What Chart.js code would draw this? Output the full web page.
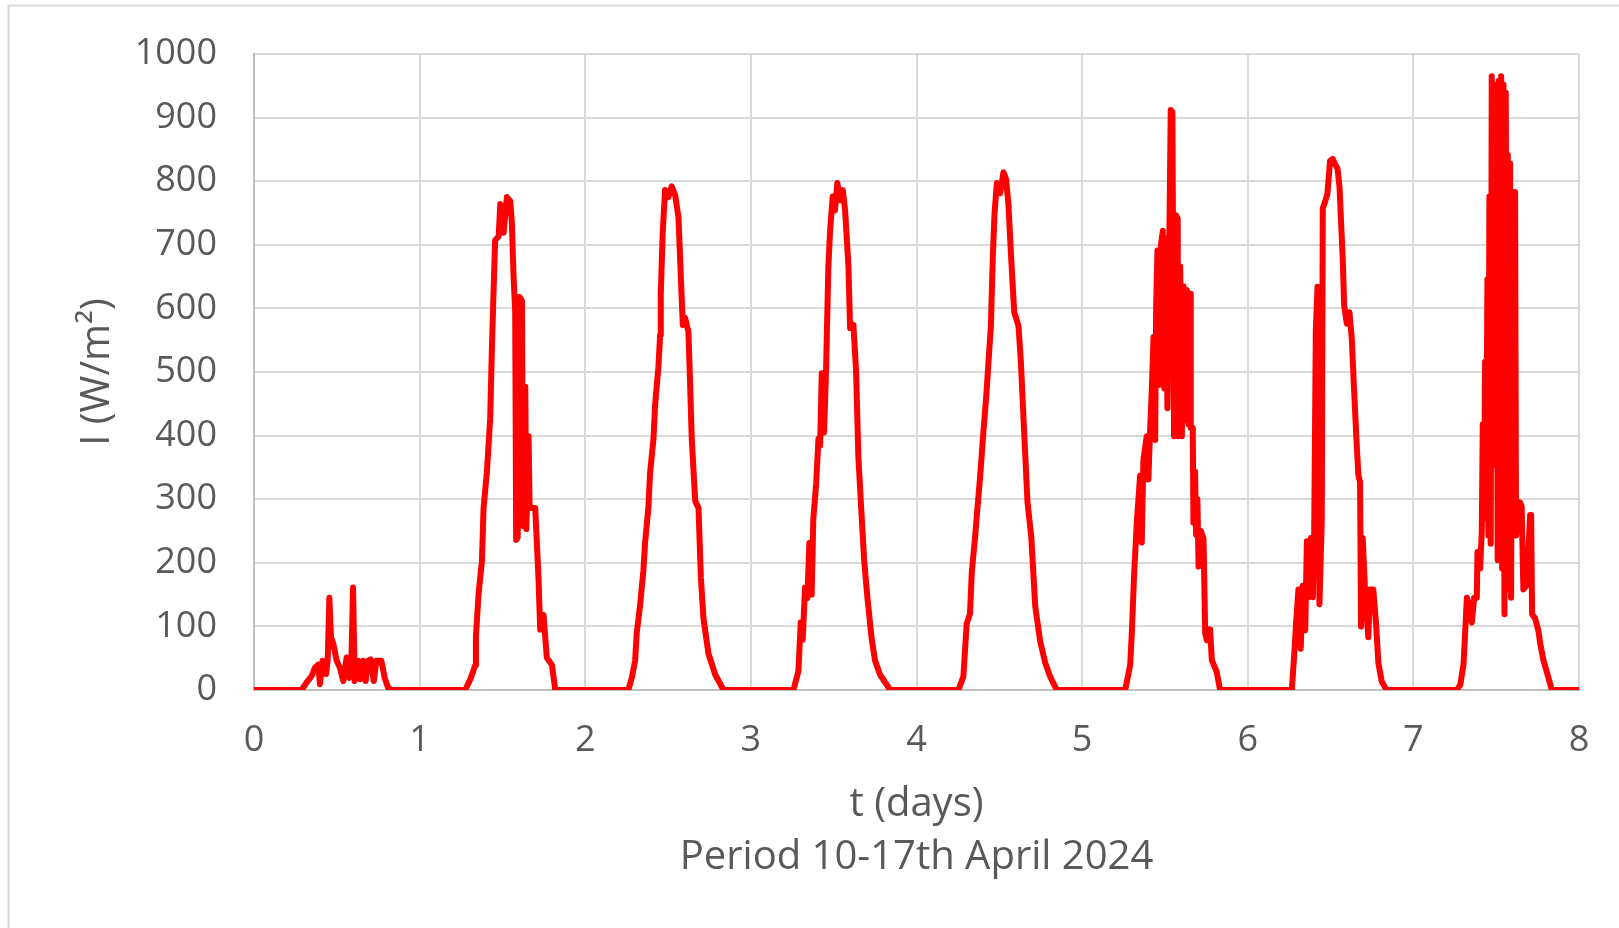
<!DOCTYPE html>
<html>
<head>
<meta charset="utf-8">
<script src="https://cdn.jsdelivr.net/npm/chart.js@4.4.1/dist/chart.umd.min.js"></script>
<style>
  html, body { margin: 0; padding: 0; background: #ffffff; }
  #wrap { width: 1619px; height: 928px; position: relative; }
</style>
</head>
<body>
<div id="wrap"><canvas id="c" width="1619" height="928"></canvas></div>
<script>
// ---- Data: irradiance I (W/m²) vs time t (days) ----
const xTicks = [0, 1, 2, 3, 4, 5, 6, 7, 8];
const yTicks = [0, 100, 200, 300, 400, 500, 600, 700, 800, 900, 1000];
const xTitle = ["t (days)", "Period 10-17th April 2024"];
const yTitle = "I (W/m²)";

const day0 = [[0,0],[0.288,0],[0.318,12],[0.348,22],[0.368,35],[0.388,40],[0.398,9],[0.414,46],[0.435,25],[0.445,48],[0.455,145],[0.465,83],[0.479,72],[0.499,46],[0.519,35],[0.539,14],[0.559,51],[0.575,19],[0.588,46],[0.598,161],[0.608,14],[0.628,46],[0.642,17],[0.658,46],[0.674,14],[0.689,46],[0.705,48],[0.723,14],[0.739,46],[0.769,46],[0.789,19],[0.809,4],[0.829,0]];
const day1 = [[1.275,0],[1.306,17],[1.336,39],[1.34,84],[1.356,152],[1.376,202],[1.386,286],[1.406,342],[1.426,427],[1.436,533],[1.446,623],[1.456,707],[1.477,713],[1.487,764],[1.507,719],[1.527,775],[1.547,769],[1.557,735],[1.567,651],[1.577,595],[1.583,236],[1.592,240],[1.603,618],[1.618,612],[1.624,258],[1.638,477],[1.644,253],[1.658,399],[1.664,286],[1.698,286],[1.718,174],[1.728,95],[1.748,118],[1.768,51],[1.799,39],[1.819,0]];
const day2 = [[2.260,0],[2.281,19],[2.301,46],[2.311,90],[2.331,133],[2.351,188],[2.361,231],[2.381,286],[2.391,340],[2.412,395],[2.422,449],[2.442,509],[2.452,558],[2.456,623],[2.468,721],[2.482,786],[2.502,775],[2.522,792],[2.543,778],[2.563,743],[2.577,650],[2.589,574],[2.603,585],[2.623,563],[2.633,482],[2.643,395],[2.664,297],[2.684,286],[2.698,177],[2.714,112],[2.744,57],[2.785,24],[2.835,0]];
const day3 = [[3.257,0],[3.287,30],[3.301,106],[3.313,79],[3.327,161],[3.341,144],[3.353,231],[3.367,150],[3.377,269],[3.394,324],[3.408,395],[3.418,384],[3.428,498],[3.442,405],[3.454,503],[3.468,667],[3.478,721],[3.494,776],[3.508,754],[3.522,797],[3.539,770],[3.555,786],[3.569,754],[3.589,667],[3.599,569],[3.619,574],[3.635,503],[3.649,367],[3.666,286],[3.684,204],[3.704,144],[3.730,79],[3.750,46],[3.780,24],[3.841,0]];
const day4 = [[4.253,0],[4.283,21],[4.303,104],[4.323,120],[4.334,186],[4.354,241],[4.364,274],[4.384,335],[4.404,406],[4.421,461],[4.435,517],[4.449,572],[4.461,682],[4.471,748],[4.485,797],[4.505,781],[4.525,814],[4.541,803],[4.555,764],[4.571,682],[4.590,594],[4.616,572],[4.630,517],[4.650,406],[4.670,296],[4.693,241],[4.717,131],[4.747,76],[4.777,43],[4.807,21],[4.847,0]];
const day5 = [[5.260,0],[5.290,39],[5.300,89],[5.314,182],[5.330,263],[5.350,337],[5.360,232],[5.370,362],[5.390,399],[5.400,331],[5.410,406],[5.421,474],[5.431,555],[5.441,393],[5.447,604],[5.455,691],[5.467,480],[5.475,698],[5.487,722],[5.497,474],[5.507,710],[5.515,443],[5.527,722],[5.535,912],[5.545,909],[5.555,399],[5.565,747],[5.577,741],[5.581,399],[5.592,666],[5.602,399],[5.612,635],[5.622,424],[5.632,629],[5.642,418],[5.652,623],[5.656,412],[5.668,412],[5.672,263],[5.682,343],[5.688,244],[5.696,300],[5.703,194],[5.717,250],[5.733,238],[5.743,89],[5.753,78],[5.763,95],[5.773,95],[5.783,47],[5.813,28],[5.833,0]];
const day6 = [[6.266,0],[6.280,53],[6.292,106],[6.306,158],[6.320,65],[6.332,164],[6.347,94],[6.357,234],[6.367,146],[6.381,239],[6.393,146],[6.401,245],[6.411,565],[6.421,634],[6.433,135],[6.447,268],[6.453,757],[6.467,768],[6.481,780],[6.497,832],[6.513,835],[6.528,826],[6.542,820],[6.554,791],[6.564,733],[6.574,675],[6.582,605],[6.598,576],[6.614,594],[6.628,553],[6.642,472],[6.658,385],[6.668,338],[6.678,327],[6.684,100],[6.694,239],[6.708,158],[6.728,83],[6.738,158],[6.758,158],[6.774,106],[6.789,42],[6.809,13],[6.839,0]];
const day7 = [[7.262,0],[7.283,8],[7.303,41],[7.313,93],[7.323,145],[7.339,132],[7.353,106],[7.367,145],[7.383,145],[7.387,217],[7.403,191],[7.413,249],[7.419,418],[7.427,269],[7.433,516],[7.439,288],[7.447,646],[7.453,243],[7.459,776],[7.467,230],[7.473,965],[7.483,483],[7.489,952],[7.495,353],[7.503,874],[7.509,204],[7.516,958],[7.524,679],[7.530,965],[7.536,191],[7.544,952],[7.550,119],[7.558,939],[7.564,288],[7.570,841],[7.576,158],[7.584,828],[7.590,145],[7.598,783],[7.604,288],[7.614,783],[7.620,243],[7.628,288],[7.644,295],[7.654,288],[7.664,158],[7.685,165],[7.695,223],[7.705,275],[7.711,275],[7.717,119],[7.735,113],[7.755,93],[7.765,74],[7.785,47],[7.806,28],[7.836,0],[8,0]];

const series = [].concat(day0, day1, day2, day3, day4, day5, day6, day7).map(p => ({x: p[0], y: p[1]}));

const textColor = '#595959';
const fontFamily = "'Open Sans', 'Noto Sans', sans-serif";

const framePlugin = {
  id: 'frame',
  beforeDraw(chart) {
    const ctx = chart.ctx;
    ctx.save();
    ctx.fillStyle = '#ffffff';
    ctx.fillRect(0, 0, chart.width, chart.height);
    ctx.strokeStyle = '#d9d9d9';
    ctx.lineWidth = 2;
    ctx.beginPath();
    ctx.moveTo(8.5, chart.height + 5);
    ctx.lineTo(8.5, 5.5);
    ctx.lineTo(chart.width + 5, 5.5);
    ctx.stroke();
    ctx.restore();
  }
};

new Chart(document.getElementById('c'), {
  type: 'scatter',
  data: {
    datasets: [{
      data: series,
      showLine: true,
      borderColor: '#ff0000',
      backgroundColor: '#ff0000',
      borderWidth: 6,
      pointRadius: 0,
      pointHoverRadius: 0,
      tension: 0,
      borderJoinStyle: 'round',
      borderCapStyle: 'round'
    }]
  },
  options: {
    responsive: false,
    animation: false,
    devicePixelRatio: 1,
    layout: { padding: { top: 54, right: 40, bottom: 0, left: 0 } },
    plugins: { legend: { display: false }, tooltip: { enabled: false } },
    scales: {
      x: {
        type: 'linear',
        min: 0, max: 8,
        afterBuildTicks(scale) { scale.ticks = xTicks.map(v => ({value: v})); },
        afterFit(scale) { scale.height = 238; },
        grid: { color: '#d9d9d9', lineWidth: 2, drawTicks: false },
        border: { color: '#bfbfbf', width: 2 },
        ticks: { color: textColor, font: { family: fontFamily, size: 36 }, padding: 29, maxRotation: 0,
                 callback: v => String(v) },
        title: {
          display: true, text: xTitle, color: textColor,
          font: { family: fontFamily, size: 40, lineHeight: 1.32 },
          padding: { top: 0, bottom: 44 }
        }
      },
      y: {
        type: 'linear',
        min: 0, max: 1000,
        afterBuildTicks(scale) { scale.ticks = yTicks.map(v => ({value: v})); },
        afterFit(scale) { scale.width = 254; scale.paddingTop = 0; scale.paddingBottom = 0; },
        grid: { color: '#d9d9d9', lineWidth: 2, drawTicks: false },
        border: { color: '#bfbfbf', width: 2 },
        ticks: { color: textColor, font: { family: fontFamily, size: 36 }, padding: 37,
                 callback: v => String(v) },
        title: {
          display: true, text: yTitle, color: textColor,
          font: { family: fontFamily, size: 40, lineHeight: 1.2 },
          padding: { top: 74, bottom: 0 }
        }
      }
    }
  },
  plugins: [framePlugin]
});
</script>
</body>
</html>
